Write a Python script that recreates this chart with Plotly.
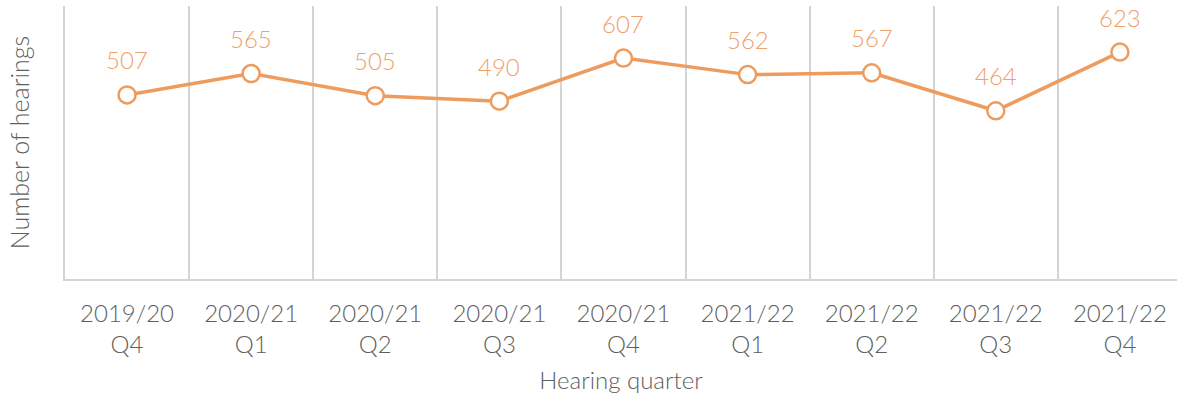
import plotly.graph_objects as go

quarters = ["2019/20<br>Q4", "2020/21<br>Q1", "2020/21<br>Q2", "2020/21<br>Q3", "2020/21<br>Q4",
            "2021/22<br>Q1", "2021/22<br>Q2", "2021/22<br>Q3", "2021/22<br>Q4"]
hearings = [507, 565, 505, 490, 607, 562, 567, 464, 623]

LINE = "#EE9C5E"
LABEL = "#EFA169"
GREY = "#5E5E5E"
GRID = "#D4D4D4"
FONT = "Lato"

fig = go.Figure()
fig.add_trace(go.Scatter(
    x=quarters, y=hearings, mode="lines+markers",
    line=dict(color=LINE, width=3.5),
    marker=dict(size=17, color="white", line=dict(color=LINE, width=2.5)),
    hoverinfo="skip", showlegend=False, cliponaxis=False,
))
for q, v in zip(quarters, hearings):
    fig.add_annotation(x=q, y=v, text=str(v), showarrow=False, yshift=35,
                       font=dict(family=FONT, size=24, color=LABEL, weight=300))

fig.update_layout(
    width=1177, height=400,
    margin=dict(l=65, r=0, t=6, b=121, autoexpand=False),
    plot_bgcolor="white", paper_bgcolor="white",
    font=dict(family=FONT, color=GREY, size=24, weight=300),
)
fig.update_xaxes(
    type="category", range=[-0.5, 8.46], tickson="boundaries",
    showgrid=True, gridcolor=GRID, gridwidth=2,
    showline=True, linecolor=GRID, linewidth=2,
    ticks="", ticklabelstandoff=12, automargin=False,
    tickfont=dict(family=FONT, size=24, color=GREY, weight=300),
    title=dict(text="Hearing quarter", standoff=15,
               font=dict(family=FONT, size=24, color=GREY, weight=300)),
    zeroline=False,
)
fig.update_yaxes(
    range=[8, 748], showgrid=False, zeroline=False,
    showline=True, linecolor=GRID, linewidth=2,
    showticklabels=False, ticks="", automargin=False,
    title=dict(text="Number of hearings", standoff=26,
               font=dict(family=FONT, size=25, color=GREY, weight=300)),
)
fig.write_html("out.html", config={"displayModeBar": False},
               post_script="document.body.style.margin='0';")
